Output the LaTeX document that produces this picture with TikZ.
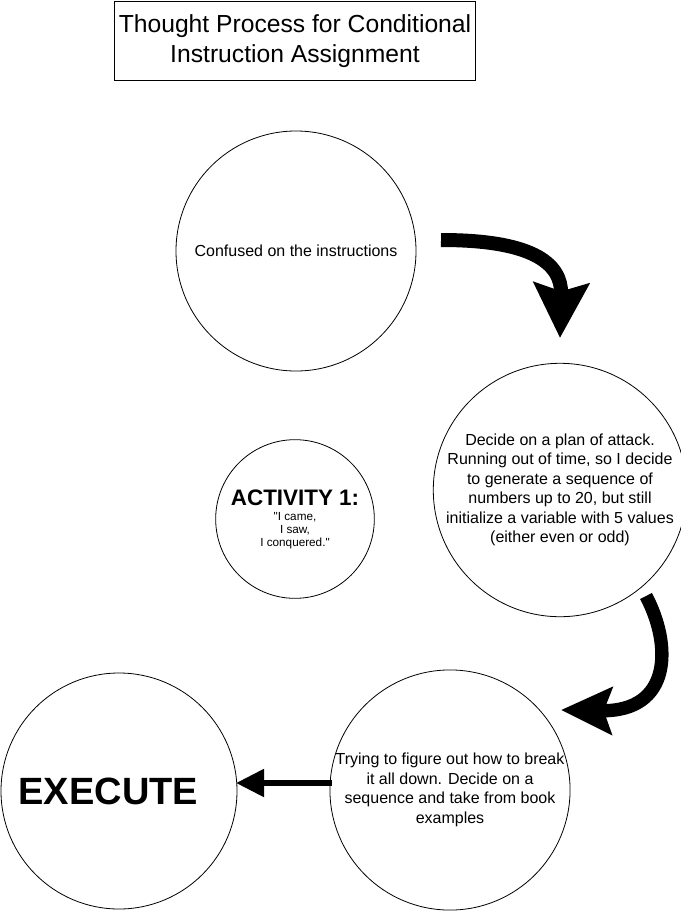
\documentclass[tikz,border=0pt]{standalone}
\usepackage{fontspec}
\setmainfont{Liberation Sans}[Ligatures=TeXOff]
\usetikzlibrary{arrows.meta}

\begin{document}
\begin{tikzpicture}[x=0.75pt, y=-0.75pt,
  bubble/.style={draw, circle, line width=0.6pt, inner sep=0pt, align=center,
    font=\fontsize{12}{14.6}\selectfont},
  fatarrow/.style={line width=#1, -{Stealth[length=41pt, width=41pt, inset=6pt]}}]
  \useasboundingbox (0,0) rectangle (681,911);

  \node [draw, line width=0.6pt, minimum width=270pt, minimum height=59pt, align=center,
    font=\fontsize{18.5}{22.5}\selectfont] (title) at (295,41)
    {Thought Process for Conditional\\Instruction Assignment};

  \node [bubble, minimum size=180pt] (confused) at (296,251) {Confused on the instructions};
  \node [bubble, minimum size=180pt] (plan) at (560,490)
    {Decide on a plan of attack.\\Running out of time, so I decide\\to generate a sequence of\\numbers up to 20, but still\\initialize a variable with 5 values\\(either even or odd)};
  \node [bubble, minimum size=119pt, font=\fontsize{8.8}{9.8}\selectfont] (activity) at (295,519)
    {{\bfseries\fontsize{16.8}{18}\selectfont ACTIVITY 1:}\\[1.5pt]"I came,\\I saw,\\I conquered."};
  \node [bubble, minimum size=180pt] (breakdown) at (450,790)
    {Trying to figure out how to break\\it all down. Decide on a\\sequence and take from book\\examples};
  \node [bubble, minimum size=177pt, font=\bfseries\fontsize{28.5}{33}\selectfont] (execute) at (119,791)
    {EXECUTE\hspace{16pt}};

  % ends of the fat arrows
  \coordinate (confused out) at (441,240);
  \coordinate (plan in) at (560,338);
  \coordinate (plan out) at (646,596);
  \coordinate (breakdown in) at (561,710);
  \coordinate (breakdown out) at (332,783);
  \coordinate (execute in) at (236,783);

  \draw [fatarrow=10.5pt] (confused out) .. controls (530,240) and (562,262) .. (plan in);
  \draw [line width=10pt, -{Stealth[length=38pt, width=35pt, inset=6pt]}]
    (plan out) .. controls (672,645) and (672,712) .. (breakdown in);
  \draw [line width=4.5pt, -{Triangle[length=21pt, width=20pt]}] (breakdown out) -- (execute in);
\end{tikzpicture}
\end{document}
